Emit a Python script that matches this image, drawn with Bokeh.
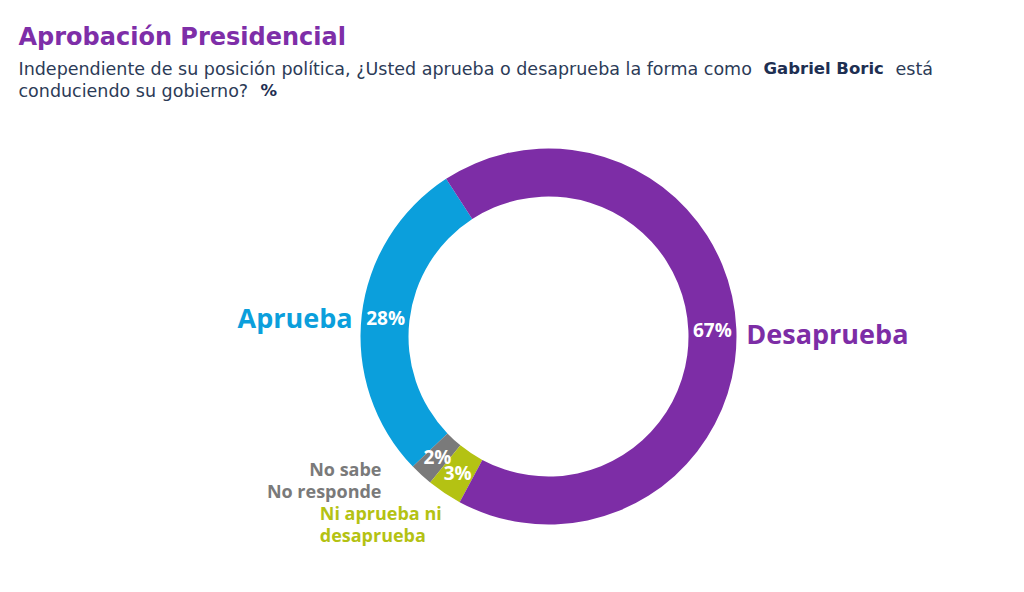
from bokeh.plotting import figure
from bokeh.models import ColumnDataSource
from bokeh.core.properties import value
from bokeh.embed import file_html
from bokeh.resources import INLINE
import numpy as np

# ---- data ----
categories = ["Aprueba", "No sabe No responde", "Ni aprueba ni desaprueba", "Desaprueba"]
values = [28, 2, 3, 67]
pct_labels = ["28%", "2%", "3%", "67%"]

# ---- style ----
colors = ["#0B9FDC", "#7A7A7A", "#B4C213", "#7D2DA6"]
FONT = "Open Sans"
SUBFONT = "DejaVu Sans"
W, H = 1008, 576
OX, OY = 0, 576            # screen px -> data: x = px - OX, y = OY - py
cx, cy = 548 - OX, OY - 336
r_out, r_in = 188, 140
start_deg = 123.0          # Aprueba/Desaprueba boundary, ccw from +x

p = figure(width=W, height=H, x_range=(0, W), y_range=(0, H),
           output_backend="svg", toolbar_location=None, min_border=0)
p.axis.visible = False
p.grid.visible = False
p.outline_line_color = None

vals = np.array(values, dtype=float)
fr = vals / vals.sum()
ends = start_deg + np.cumsum(fr) * 360.0
starts = ends - fr * 360.0
src = ColumnDataSource(dict(start=np.deg2rad(starts), end=np.deg2rad(ends), color=colors,
                            cat=categories))
p.annular_wedge(x=cx, y=cy, inner_radius=r_in, outer_radius=r_out,
                start_angle="start", end_angle="end", fill_color="color",
                line_color=None, source=src)

mid = np.deg2rad((starts + ends) / 2)
rm = (r_in + r_out) / 2
lx = cx + rm * np.cos(mid)
ly = cy + rm * np.sin(mid)
p.text(x=lx, y=ly, text=pct_labels, text_color="white", text_font=value(FONT),
       text_font_style="bold", text_font_size="19px", text_align="center",
       text_baseline="middle")

# category labels
p.text(x=[lx[0] - 33], y=[ly[0]], text=[categories[0]], text_color=colors[0],
       text_font=value(FONT), text_font_style="bold", text_font_size="27px",
       text_align="right", text_baseline="middle")
p.text(x=[lx[3] + 34], y=[ly[3] - 4], text=[categories[3]], text_color=colors[3],
       text_font=value(FONT), text_font_style="bold", text_font_size="27px",
       text_align="left", text_baseline="middle")
p.text(x=[lx[1] - 56, lx[1] - 56], y=[ly[1] - 12, ly[1] - 34],
       text=["No sabe", "No responde"], text_color=colors[1],
       text_font=value(FONT), text_font_style="bold", text_font_size="18px",
       text_align="right", text_baseline="middle")
p.text(x=[lx[2] - 138, lx[2] - 138], y=[ly[2] - 40, ly[2] - 62],
       text=["Ni aprueba ni", "desaprueba"], text_color=colors[2],
       text_font=value(FONT), text_font_style="bold", text_font_size="18px",
       text_align="left", text_baseline="middle")

# title & subtitle
p.text(x=[18 - OX], y=[OY - 36], text=["Aprobación Presidencial"], text_color="#7E2EA8",
       text_font=value(SUBFONT), text_font_style="bold", text_font_size="24px",
       text_baseline="alphabetic")
sub_c = "#2C3B57"
p.text(x=[18 - OX, 18 - OX], y=[OY - 68, OY - 90],
       text=["Independiente de su posición política, ¿Usted aprueba o desaprueba la forma como",
             "conduciendo su gobierno?"],
       text_color=sub_c, text_font=value(SUBFONT), text_font_size="17.5px",
       text_baseline="alphabetic")
p.text(x=[763 - OX, 260 - OX], y=[OY - 68, OY - 90],
       text=["Gabriel Boric", "%"],
       text_color="#1E2F52", text_font=value(SUBFONT),
       text_font_style="bold", text_font_size="16.5px",
       text_baseline="alphabetic")
p.text(x=[895 - OX], y=[OY - 68], text=["está"], text_color=sub_c,
       text_font=value(SUBFONT), text_font_size="17.5px", text_baseline="alphabetic")

open("out.html", "w").write(file_html(p, INLINE))
